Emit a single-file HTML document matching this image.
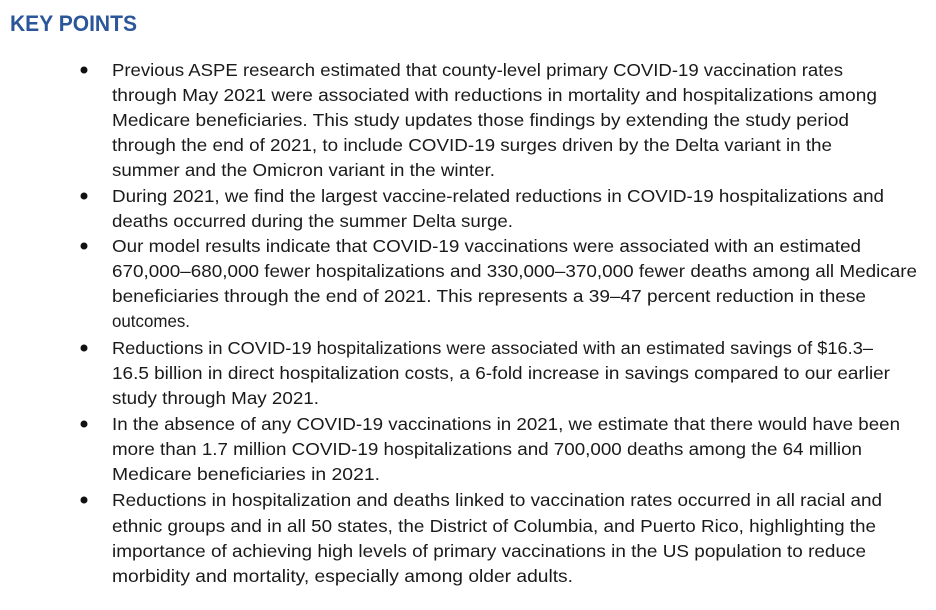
<!DOCTYPE html>
<html><head><meta charset="utf-8"><style>
html,body{margin:0;padding:0;background:#fff;width:936px;height:610px;overflow:hidden}
svg text{font-family:"Liberation Sans",sans-serif}
</style></head><body>
<svg width="936" height="610" xmlns="http://www.w3.org/2000/svg">
<text x="10" y="31" font-size="22" font-weight="bold" fill="#2b579a" textLength="127" lengthAdjust="spacingAndGlyphs">KEY POINTS</text>
<g fill="#111">
<circle cx="84" cy="70" r="3.5"/><circle cx="84" cy="196" r="3.5"/><circle cx="84" cy="246" r="3.5"/>
<circle cx="84" cy="348" r="3.5"/><circle cx="84" cy="424" r="3.5"/><circle cx="84" cy="500" r="3.5"/>
</g>
<g font-size="17.5" fill="#1a1a1a" lengthAdjust="spacingAndGlyphs">
<text x="112" y="76" textLength="731" lengthAdjust="spacingAndGlyphs">Previous ASPE research estimated that county-level primary COVID-19 vaccination rates</text>
<text x="112" y="101" textLength="765" lengthAdjust="spacingAndGlyphs">through May 2021 were associated with reductions in mortality and hospitalizations among</text>
<text x="112" y="126" textLength="737" lengthAdjust="spacingAndGlyphs">Medicare beneficiaries.  This study updates those findings by extending the study period</text>
<text x="112" y="151" textLength="720" lengthAdjust="spacingAndGlyphs">through the end of 2021, to include COVID-19 surges driven by the Delta variant in the</text>
<text x="112" y="176" textLength="383" lengthAdjust="spacingAndGlyphs">summer and the Omicron variant in the winter.</text>
<text x="112" y="202" textLength="772" lengthAdjust="spacingAndGlyphs">During 2021, we find the largest vaccine-related reductions in COVID-19 hospitalizations and</text>
<text x="112" y="227" textLength="401" lengthAdjust="spacingAndGlyphs">deaths occurred during the summer Delta surge.</text>
<text x="112" y="252" textLength="749" lengthAdjust="spacingAndGlyphs">Our model results indicate that COVID-19 vaccinations were associated with an estimated</text>
<text x="112" y="277" textLength="805" lengthAdjust="spacingAndGlyphs">670,000–680,000 fewer hospitalizations and 330,000–370,000 fewer deaths among all Medicare</text>
<text x="112" y="302" textLength="754" lengthAdjust="spacingAndGlyphs">beneficiaries through the end of 2021.  This represents a 39–47 percent reduction in these</text>
<text x="112" y="327" textLength="78" lengthAdjust="spacingAndGlyphs">outcomes.</text>
<text x="112" y="354" textLength="761" lengthAdjust="spacingAndGlyphs">Reductions in COVID-19 hospitalizations were associated with an estimated savings of $16.3–</text>
<text x="112" y="379" textLength="778" lengthAdjust="spacingAndGlyphs">16.5 billion in direct hospitalization costs, a 6-fold increase in savings compared to our earlier</text>
<text x="112" y="404" textLength="207" lengthAdjust="spacingAndGlyphs">study through May 2021.</text>
<text x="112" y="430" textLength="788" lengthAdjust="spacingAndGlyphs">In the absence of any COVID-19 vaccinations in 2021, we estimate that there would have been</text>
<text x="112" y="455" textLength="750" lengthAdjust="spacingAndGlyphs">more than 1.7 million COVID-19 hospitalizations and 700,000 deaths among the 64 million</text>
<text x="112" y="480" textLength="268" lengthAdjust="spacingAndGlyphs">Medicare beneficiaries in 2021.</text>
<text x="112" y="506" textLength="770" lengthAdjust="spacingAndGlyphs">Reductions in hospitalization and deaths linked to vaccination rates occurred in all racial and</text>
<text x="112" y="532" textLength="764" lengthAdjust="spacingAndGlyphs">ethnic groups and in all 50 states, the District of Columbia, and Puerto Rico, highlighting the</text>
<text x="112" y="557" textLength="754" lengthAdjust="spacingAndGlyphs">importance of achieving high levels of primary vaccinations in the US population to reduce</text>
<text x="112" y="582" textLength="461" lengthAdjust="spacingAndGlyphs">morbidity and mortality, especially among older adults.</text>
</g>
</svg>
</body></html>
